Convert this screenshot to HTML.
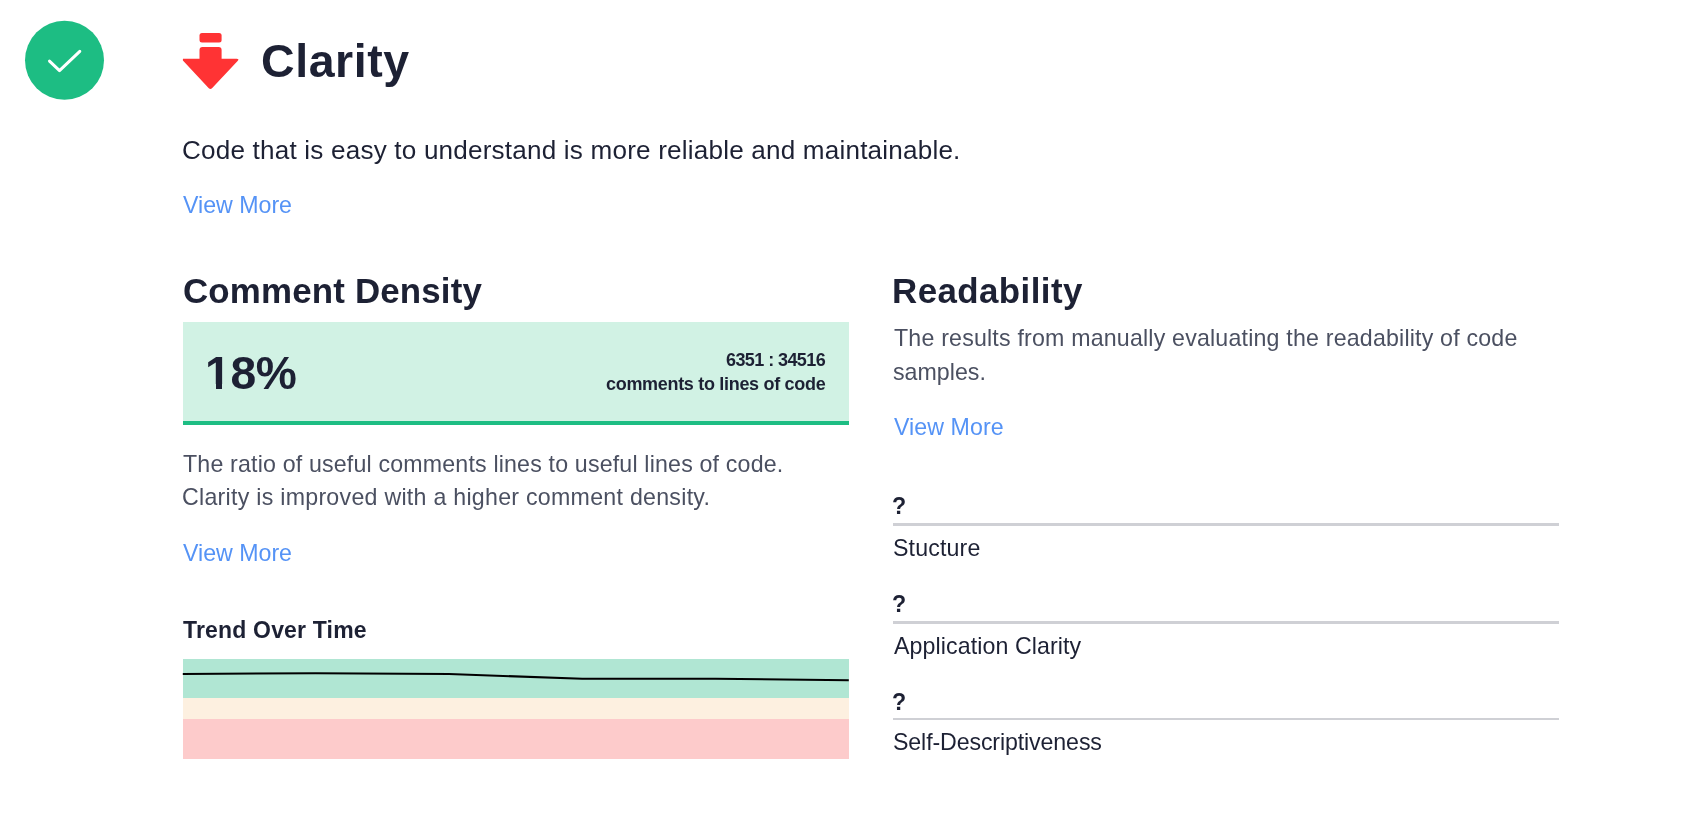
<!DOCTYPE html>
<html><head><meta charset="utf-8"><title>Clarity</title>
<style>
html,body{margin:0;padding:0;background:#fff;width:1687px;height:814px;overflow:hidden;}
body{position:relative;font-family:"Liberation Sans",sans-serif;}
.t{position:absolute;white-space:nowrap;will-change:transform;}
.abs{position:absolute;}
</style></head><body>
<svg class="abs" style="left:0;top:0" width="260" height="110" viewBox="0 0 260 110">
  <circle cx="64.5" cy="60.3" r="39.5" fill="#1dbd83"/>
  <polyline points="49.5,61.1 59.5,70.6 79.8,51.4" fill="none" stroke="#fff" stroke-width="3" stroke-linecap="round" stroke-linejoin="round"/>
  <rect x="199.5" y="33.1" width="22.1" height="9.5" rx="2.5" fill="#ff3334"/>
  <path d="M202.5 47.1 H218.6 Q221.6 47.1 221.6 50.1 V58.75 H236.6 Q239.6 58.75 237.6 61 L212 88.2 Q210.4 89.8 208.8 88.2 L182.9 60.5 V58.75 H199.5 V50.1 Q199.5 47.1 202.5 47.1 Z" fill="#ff3334"/>
</svg>
<div class="abs" style="left:182.5px;top:322px;width:666.5px;height:99px;background:#d1f2e4;border-bottom:4px solid #1dbd83;"></div>
<div class="abs" style="left:182.8px;top:659px;width:666px;height:39px;background:#b0e6d3;"></div>
<div class="abs" style="left:182.8px;top:698px;width:666px;height:21px;background:#fdf0e0;"></div>
<div class="abs" style="left:182.8px;top:719px;width:666px;height:40px;background:#fdcbcb;"></div>
<svg class="abs" style="left:0;top:640px" width="900" height="60" viewBox="0 640 900 60">
  <polyline points="182.8,674 315.8,673.2 449,674 582.3,678.8 715.6,678.8 848.8,680.2" fill="none" stroke="#000" stroke-width="2"/>
</svg>
<div class="abs" style="left:892.6px;top:523px;width:666px;height:3px;background:#cfd0d5;"></div>
<div class="abs" style="left:892.6px;top:621px;width:666px;height:3px;background:#cfd0d5;"></div>
<div class="abs" style="left:892.6px;top:718px;width:666px;height:2px;background:#cfd0d5;"></div>
<div class="t" style="left:260.9px;top:37.9px;font-size:46.5px;line-height:46.5px;font-weight:700;color:#1d2134;letter-spacing:0.567px;">Clarity</div>
<div class="t" style="left:182.3px;top:136.9px;font-size:26.1px;line-height:26.1px;font-weight:400;color:#1d2134;letter-spacing:0.192px;">Code that is easy to understand is more reliable and maintainable.</div>
<div class="t" style="left:183.3px;top:194.2px;font-size:23.2px;line-height:23.2px;font-weight:400;color:#5593f6;letter-spacing:-0.013px;">View More</div>
<div class="t" style="left:183.1px;top:273.6px;font-size:34.9px;line-height:34.9px;font-weight:700;color:#1d2134;letter-spacing:0.164px;">Comment Density</div>
<div class="t" style="left:204.5px;top:349.6px;font-size:46.2px;line-height:46.2px;font-weight:700;color:#1d2134;letter-spacing:-0.25px;">18%</div>
<div class="t" style="left:725.5px;top:350.9px;font-size:18px;line-height:18px;font-weight:700;color:#1d2134;letter-spacing:-0.582px;">6351 : 34516</div>
<div class="t" style="left:605.6px;top:374.9px;font-size:18px;line-height:18px;font-weight:700;color:#1d2134;letter-spacing:-0.308px;">comments to lines of code</div>
<div class="t" style="left:183.3px;top:453.0px;font-size:23.2px;line-height:23.2px;font-weight:400;color:#4b5061;letter-spacing:0.171px;">The ratio of useful comments lines to useful lines of code.</div>
<div class="t" style="left:182.3px;top:486.2px;font-size:23.2px;line-height:23.2px;font-weight:400;color:#4b5061;letter-spacing:0.263px;">Clarity is improved with a higher comment density.</div>
<div class="t" style="left:183.3px;top:542.0px;font-size:23.2px;line-height:23.2px;font-weight:400;color:#5593f6;letter-spacing:-0.013px;">View More</div>
<div class="t" style="left:183.3px;top:618.9px;font-size:23px;line-height:23px;font-weight:700;color:#1d2134;letter-spacing:0.179px;">Trend Over Time</div>
<div class="t" style="left:891.7px;top:273.7px;font-size:34.9px;line-height:34.9px;font-weight:700;color:#1d2134;letter-spacing:0.43px;">Readability</div>
<div class="t" style="left:893.6px;top:327.3px;font-size:23.2px;line-height:23.2px;font-weight:400;color:#4b5061;letter-spacing:0.188px;">The results from manually evaluating the readability of code</div>
<div class="t" style="left:892.6px;top:360.5px;font-size:23.2px;line-height:23.2px;font-weight:400;color:#4b5061;letter-spacing:0.014px;">samples.</div>
<div class="t" style="left:893.8px;top:416.0px;font-size:23.2px;line-height:23.2px;font-weight:400;color:#5593f6;letter-spacing:0.062px;">View More</div>
<div class="t" style="left:892.2px;top:495.1px;font-size:23.2px;line-height:23.2px;font-weight:700;color:#1d2134;">?</div>
<div class="t" style="left:892.6px;top:536.8px;font-size:23.2px;line-height:23.2px;font-weight:400;color:#1d2134;letter-spacing:0.143px;">Stucture</div>
<div class="t" style="left:892.2px;top:593.0px;font-size:23.2px;line-height:23.2px;font-weight:700;color:#1d2134;">?</div>
<div class="t" style="left:893.6px;top:634.8px;font-size:23.2px;line-height:23.2px;font-weight:400;color:#1d2134;letter-spacing:0.089px;">Application Clarity</div>
<div class="t" style="left:892.2px;top:690.5px;font-size:23.2px;line-height:23.2px;font-weight:700;color:#1d2134;">?</div>
<div class="t" style="left:892.6px;top:730.7px;font-size:23.2px;line-height:23.2px;font-weight:400;color:#1d2134;letter-spacing:-0.126px;">Self-Descriptiveness</div>
<div class="abs" style="left:207px;top:383.5px;width:9px;height:6px;background:#d1f2e4;will-change:transform"></div>
<div class="abs" style="left:222px;top:383.5px;width:8px;height:6px;background:#d1f2e4;will-change:transform"></div>
</body></html>
